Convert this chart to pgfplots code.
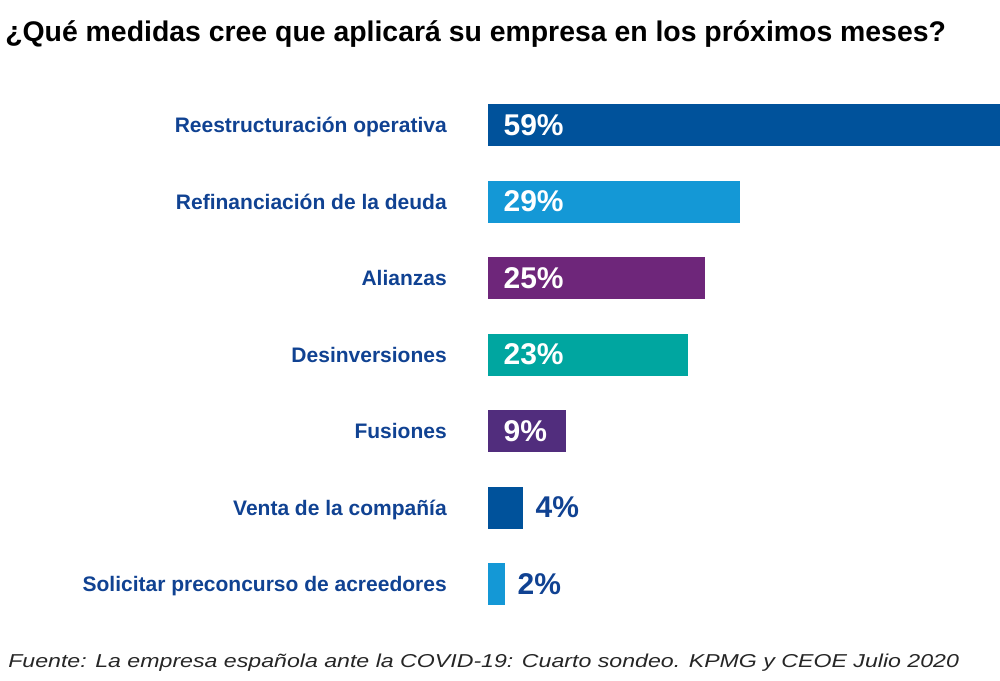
\documentclass[border=0pt]{standalone}
\usepackage{pgfplots}
\pgfplotsset{compat=1.18}
\usepackage{fontspec}
\setmainfont{Liberation Sans}
\newfontfamily\footfont[FakeStretch=1.24]{Liberation Sans}
\definecolor{kdblue}{RGB}{0,82,155}
\definecolor{klblue}{RGB}{20,152,214}
\definecolor{kpurple}{RGB}{110,38,122}
\definecolor{kteal}{RGB}{0,166,160}
\definecolor{kdpurple}{RGB}{81,45,125}
\definecolor{ktext}{RGB}{16,66,146}
\begin{document}
\begin{tikzpicture}
\useasboundingbox (0,0) rectangle (750pt,510.75pt);
\node[anchor=base west, inner sep=0pt, font=\bfseries\fontsize{21.3pt}{24pt}\selectfont] at (3.75pt,479.25pt) {¿Qué medidas cree que aplicará su empresa en los próximos meses?};
\node[anchor=base west, inner sep=0pt, font=\footfont\itshape\fontsize{14pt}{16pt}\selectfont, text=black!85] at (6pt,9.75pt) {Fuente: La empresa española ante la COVID-19: Cuarto sondeo. KPMG y CEOE Julio 2020};
\begin{axis}[
  at={(366pt,44.06pt)}, anchor=south west,
  scale only axis, width=384pt, height=401.625pt,
  xmin=0, xmax=59, ymin=-0.5, ymax=6.5, y dir=reverse,
  xbar, bar width=31.5pt, bar shift=0pt,
  axis line style={draw=none}, xtick=\empty,
  ytick={0,...,6}, major tick length=0pt, ytick style={draw=none},
  yticklabels={Reestructuración operativa,Refinanciación de la deuda,Alianzas,Desinversiones,Fusiones,Venta de la compañía,Solicitar preconcurso de acreedores},
  yticklabel style={font=\bfseries\fontsize{15.75pt}{18pt}\selectfont, text=ktext, inner sep=0pt, anchor=east, text height=11.3pt, text depth=0pt},
  ticklabel shift=30.75pt,
  clip=false,
]
\addplot[draw=none, fill=kdblue] coordinates {(59,0)};
\addplot[draw=none, fill=klblue] coordinates {(29,1)};
\addplot[draw=none, fill=kpurple] coordinates {(25,2)};
\addplot[draw=none, fill=kteal] coordinates {(23,3)};
\addplot[draw=none, fill=kdpurple] coordinates {(9,4)};
\addplot[draw=none, fill=kdblue] coordinates {(4,5)};
\addplot[draw=none, fill=klblue] coordinates {(2,6)};
\begin{scope}[every node/.style={font=\bfseries\fontsize{22.5pt}{26pt}\selectfont, inner sep=0pt, text height=15.6pt, text depth=0pt}]
\node[anchor=west, text=white, xshift=11.5pt] at (axis cs:0,0) {59\%};
\node[anchor=west, text=white, xshift=11.5pt] at (axis cs:0,1) {29\%};
\node[anchor=west, text=white, xshift=11.5pt] at (axis cs:0,2) {25\%};
\node[anchor=west, text=white, xshift=11.5pt] at (axis cs:0,3) {23\%};
\node[anchor=west, text=white, xshift=11.5pt] at (axis cs:0,4) {9\%};
\node[anchor=west, text=ktext, xshift=9.5pt] at (axis cs:4,5) {4\%};
\node[anchor=west, text=ktext, xshift=9pt] at (axis cs:2,6) {2\%};
\end{scope}
\end{axis}
\end{tikzpicture}
\end{document}
